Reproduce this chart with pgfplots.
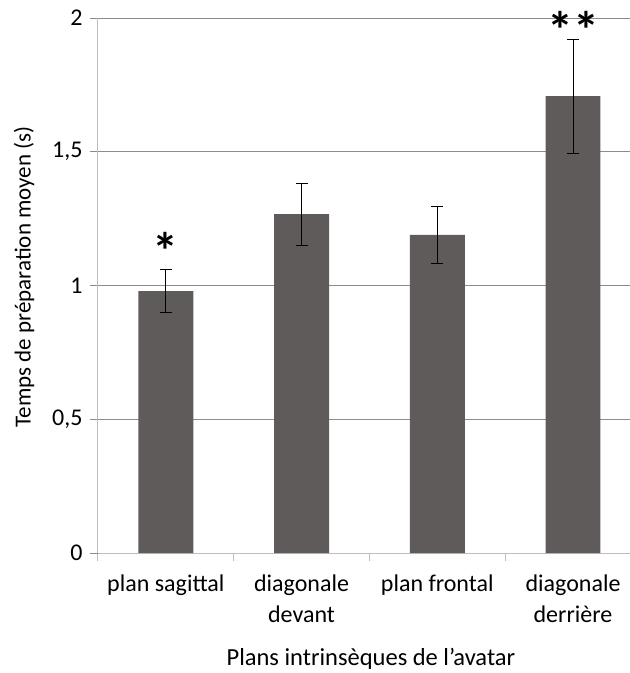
\documentclass[border=0pt]{standalone}
\usepackage{pgfplots}
\pgfplotsset{compat=1.18}
\usepackage{fontspec}
\setmainfont{Carlito}
\definecolor{barc}{HTML}{5F5B5A}
\definecolor{gridc}{HTML}{8C8C8C}
\definecolor{axc}{HTML}{BEBEBE}
\begin{document}
\begin{tikzpicture}[x=1pt,y=1pt,font=\fontsize{24.5}{31}\selectfont]
\path[use as bounding box] (-98,-120) rectangle (532,18+535);
\begin{axis}[
  at={(0,0)}, anchor=south west,
  scale only axis, width=532pt, height=535pt,
  xmin=-0.5, xmax=3.42, ymin=0, ymax=2,
  axis x line*=bottom, axis y line*=left,
  axis line style={axc, line width=1pt},
  ytick={0,0.5,1,1.5,2},
  ymajorgrids, grid style={gridc, line width=0.8pt},
  tick align=outside, major tick length=8pt,
  y tick style={gridc, line width=0.8pt},
  /pgf/number format/use comma,
  /pgf/number format/assume math mode=true,
  tick label style={font=\fontsize{24}{31}\selectfont},
  label style={font=\fontsize{24.5}{31}\selectfont},
  y tick label style={xshift=-4pt},
  xtick={0,1,2,3},
  xticklabels={plan sagittal, diagonale\\devant, plan frontal, diagonale\\derrière},
  x tick label style={align=center, yshift=-10pt},
  major x tick style={draw=none},
  minor xtick={-0.5,0.5,1.5,2.5},
  minor x tick style={axc, line width=1pt},
  minor tick length=8pt,
  xlabel={Plans intrinsèques de l’avatar},
  xlabel style={at={(axis description cs:0.513,-0.211)}, anchor=base},
  ylabel={Temps de préparation moyen (s)},
  ylabel style={at={(axis description cs:-0.139,0.516)}, anchor=center, font=\fontsize{23}{31}\selectfont},
  clip=false,
]
\addplot[ybar, bar width=0.405, fill=barc, draw=none,
  error bars/.cd, y dir=both, y explicit,
  error bar style={black, line width=1pt},
  error mark options={rotate=90, mark size=6pt, black, line width=1pt}]
  coordinates {
    (0,0.979) +- (0,0.081)
    (1,1.267) +- (0,0.116)
    (2,1.189) +- (0,0.105)
    (3,1.708) +- (0,0.213)
  };
\node[font=\fontsize{52}{52}\selectfont\bfseries, inner sep=0pt] at (axis cs:0,1.13) {*};
\node[font=\fontsize{52}{52}\selectfont\bfseries, inner sep=0pt] at (axis cs:3,1.955) {**};
\end{axis}
\end{tikzpicture}
\end{document}
